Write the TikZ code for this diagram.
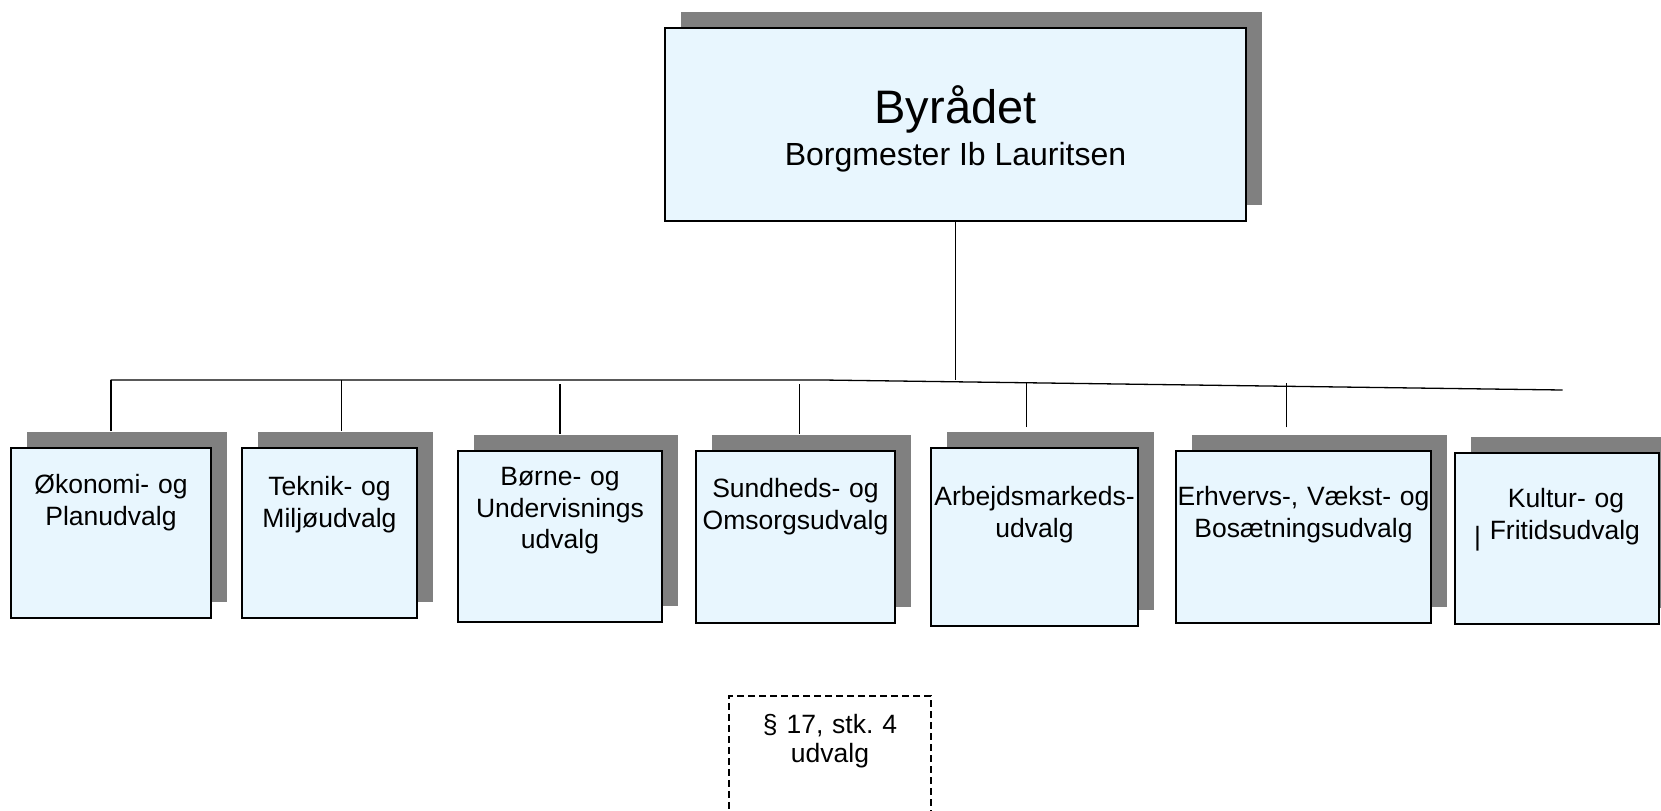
\documentclass[tikz,border=0pt]{standalone}
\usepackage{fontspec}
\setmainfont{Liberation Sans}
\usepackage{tikz}
\usetikzlibrary{shadows}

\definecolor{boxblue}{HTML}{E8F6FE}
\definecolor{shadowgray}{HTML}{808080}
\frenchspacing

\begin{document}
\begin{tikzpicture}[x=0.5pt,y=-0.5pt,line width=0.65pt,
    udvalg/.style={draw,line width=0.8pt,fill=boxblue,anchor=north,align=center,inner sep=0pt,
      font=\fontsize{13.25}{15.75}\selectfont,
      drop shadow={shadow xshift=8pt,shadow yshift=8pt,fill=shadowgray,opacity=1}},
    paragraf/.style={draw,line width=0.75pt,dash pattern=on 3.5pt off 2pt,anchor=north,align=center,inner sep=0pt,
      font=\fontsize{13.25}{14.5}\selectfont}]
    \useasboundingbox (0,0) rectangle (1661,810);
    \node[udvalg,text width=290.5pt,text height=48pt,text depth=48.5pt] (BY) at (955.5,27)
      {{\fontsize{23.5}{28}\selectfont Byrådet}\\[3.5pt]\fontsize{16}{21}\selectfont Borgmester Ib Lauritsen};
    \node[udvalg,text width=100pt,text height=23pt,text depth=62pt]     (OP) at (111,447)    {Økonomi- og\\Planudvalg};
    \node[udvalg,text width=87.5pt,text height=24pt,text depth=61pt]    (TM) at (329.5,447)  {Teknik- og\\Miljøudvalg};
    \node[udvalg,text width=102pt,text height=17.5pt,text depth=68pt]   (BU) at (560,450)    {Børne- og\\Undervisnings\\udvalg};
    \node[udvalg,text width=99.5pt,text height=23.5pt,text depth=62.5pt] (SO) at (795.5,450) {Sundheds- og\\Omsorgsudvalg};
    \node[udvalg,text width=103.5pt,text height=29pt,text depth=60pt]   (AM) at (1034.5,447) {Arbejdsmarkeds-\\udvalg};
    \node[udvalg,text width=127.5pt,text height=27.5pt,text depth=58.5pt] (EV) at (1303.5,450) {Erhvervs-, Vækst- og\\Bosætningsudvalg};
    \node[udvalg,text width=102pt,text height=27.5pt,text depth=58pt]   (KF) at (1557,452)   {\hspace*{9pt}Kultur- og\\\raisebox{-3pt}{|}\ Fritidsudvalg};
    \node[paragraf,text width=101pt,text height=19pt,text depth=56pt]   (PA) at (830,695)    {§ 17, stk.\ 4\\udvalg};

    % samleskinne
    \coordinate (bv) at (110.7,380);
    \coordinate (bk) at (823,380);
    \coordinate (bh) at (1562.7,390);
    \draw (bv) -- (bk) -- (bh);
    \draw (BY.south) -- (BY.south |- bk);
    \foreach \n/\dx/\dy/\l in {OP/0/8/51, TM/6/8/51, BU/0/8.2/50, SO/2/8.2/50, AM/-4/10/44.5, EV/-8.5/11.3/44}
      \draw ([xshift=\dx pt,yshift=\dy pt]\n.north) -- ++(0,-\l);
\end{tikzpicture}
\end{document}
